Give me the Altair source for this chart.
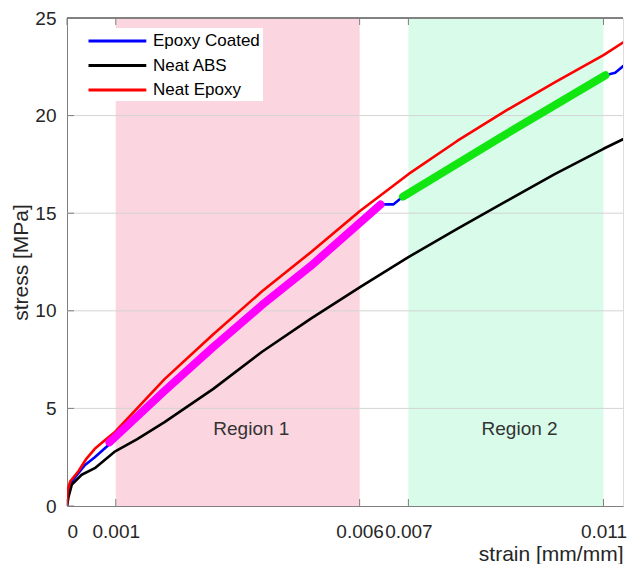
import altair as alt
import pandas as pd

# ---- data ----
strain_coated = [0, 0.00001, 0.0001, 0.00037, 0.00057, 0.00084, 0.002, 0.003, 0.004,
                 0.005, 0.006, 0.00643, 0.00669, 0.00689, 0.0089,
                 0.01104, 0.01124, 0.01153]
stress_coated = [0, 0.7, 1.27, 2.1, 2.5, 3.1, 5.9, 8.15, 10.3,
                 12.3, 14.5, 15.45, 15.45, 15.85, 18.9,
                 22.07, 22.2, 22.8]

strain_abs = [0, 0.00003, 0.0001, 0.0003, 0.00057, 0.00097, 0.00144, 0.002, 0.003,
              0.004, 0.005, 0.006, 0.007, 0.008, 0.009, 0.010, 0.011, 0.01153]
stress_abs = [0, 0.45, 1.1, 1.6, 1.94, 2.77, 3.43, 4.3, 6.0,
              7.9, 9.6, 11.2, 12.75, 14.2, 15.6, 17.0, 18.3, 18.95]

strain_epoxy = [0, 0.00001, 0.000067, 0.00023, 0.0004, 0.00057, 0.00077, 0.00097, 0.002,
                0.003, 0.004, 0.005, 0.006, 0.007, 0.008, 0.009, 0.010, 0.011, 0.01153]
stress_epoxy = [0, 0.78, 1.27, 1.77, 2.43, 2.93, 3.35, 3.76, 6.5,
                8.8, 11.0, 13.0, 15.1, 17.0, 18.7, 20.25, 21.7, 23.1, 23.95]

fit1_strain = [0.00087, 0.002, 0.003, 0.004, 0.005, 0.006, 0.00643]
fit1_stress = [3.26, 5.9, 8.15, 10.3, 12.3, 14.5, 15.45]
fit2_strain = [0.00689, 0.0089, 0.01104]
fit2_stress = [15.85, 18.9, 22.07]

region_names = ["Region 1", "Region 2"]
region_start = [0.001, 0.007]
region_end = [0.006, 0.011]
region_label_x = [0.00378, 0.00928]
region_label_y = [3.93, 3.93]
region_colors = ["#FBD5DF", "#D8FBEA"]

x_ticks = [0, 0.001, 0.006, 0.007, 0.011]
y_ticks = [0, 5, 10, 15, 20, 25]
series_names = ["Epoxy Coated", "Neat ABS", "Neat Epoxy"]
series_colors = ["#0000FF", "#000000", "#FF0000"]

# ---- tables ----
lines_df = pd.concat([
    pd.DataFrame({"strain": strain_coated, "stress": stress_coated, "series": "Epoxy Coated", "o": range(len(strain_coated))}),
    pd.DataFrame({"strain": strain_abs, "stress": stress_abs, "series": "Neat ABS", "o": range(len(strain_abs))}),
    pd.DataFrame({"strain": strain_epoxy, "stress": stress_epoxy, "series": "Neat Epoxy", "o": range(len(strain_epoxy))}),
])
fit1_df = pd.DataFrame({"strain": fit1_strain, "stress": fit1_stress})
fit2_df = pd.DataFrame({"strain": fit2_strain, "stress": fit2_stress})
regions_df = pd.DataFrame({"name": region_names, "start": region_start, "end": region_end,
                           "lx": region_label_x, "ly": region_label_y, "c": region_colors})
xt_df = pd.DataFrame({"v": x_ticks})
yt_df = pd.DataFrame({"v": y_ticks})
grid_df = pd.DataFrame({"v": y_ticks[1:-1]})

W, H = 556, 488
FONT = "Liberation Sans"
AX = "#7f7f7f"
TXT = "#262626"

xscale = alt.Scale(domain=[0, 0.0114], nice=False, zero=False)
yscale = alt.Scale(domain=[0, 25], nice=False)
xaxis = alt.Axis(values=x_ticks, labelExpr="datum.value == 0 ? '0' : format(datum.value, '.3f')",
                 title="strain [mm/mm]", titleAnchor="end", ticks=False, grid=False,
                 labelOverlap=False, labelFontSize=19, titleFontSize=21, labelPadding=16,
                 titlePadding=2, domainColor=AX, labelColor=TXT, titleColor=TXT,
                 titleFontWeight="normal", labelFont=FONT, titleFont=FONT)
yaxis = alt.Axis(values=y_ticks, title="stress [MPa]", ticks=False, grid=False,
                 labelFontSize=19, titleFontSize=21, labelPadding=11, titlePadding=3,
                 domainColor=AX, labelColor=TXT, titleColor=TXT, titleFontWeight="normal",
                 labelFont=FONT, titleFont=FONT)


def X(f):
    return alt.X(f, type="quantitative", scale=xscale, axis=xaxis)


def Y(f):
    return alt.Y(f, type="quantitative", scale=yscale, axis=yaxis)


base_r = alt.Chart(regions_df)
rects = base_r.mark_rect().encode(
    x=X("start"), x2="end", y=alt.datum(0), y2=alt.datum(25),
    color=alt.Color("c:N", scale=None))
grid = alt.Chart(grid_df).mark_rule(color="#d4d4d4", strokeWidth=1).encode(y=Y("v"))
labels = base_r.mark_text(font=FONT, fontSize=19, color="#333333").encode(
    x=X("lx"), y=Y("ly"), text="name:N")

lines = alt.Chart(lines_df).mark_line(strokeWidth=2.6, clip=True, strokeJoin="round").encode(
    x=X("strain"), y=Y("stress"), order="o:Q",
    color=alt.Color("series:N", scale=alt.Scale(domain=series_names, range=series_colors),
                    legend=alt.Legend(orient="none", legendX=17, legendY=10, title=None,
                                      symbolType="M-1,0L5.8,0", symbolStrokeWidth=3, symbolSize=289,
                                      labelFontSize=17, labelFont=FONT, labelColor="black",
                                      fillColor="white", padding=3, rowPadding=6.5, labelOffset=46)))
fit1 = alt.Chart(fit1_df).mark_line(color="#FF00FF", strokeWidth=8, strokeCap="round",
                                    strokeJoin="round").encode(x=X("strain"), y=Y("stress"))
fit2 = alt.Chart(fit2_df).mark_line(color="#11E611", strokeWidth=8, strokeCap="round").encode(
    x=X("strain"), y=Y("stress"))

xt_bottom = alt.Chart(xt_df).mark_rule(color=AX).encode(x=X("v"), y=alt.value(H), y2=alt.value(H - 7))
xt_top = alt.Chart(xt_df).mark_rule(color=AX).encode(x=X("v"), y=alt.value(0), y2=alt.value(7))
yt_left = alt.Chart(yt_df).mark_rule(color=AX).encode(y=Y("v"), x=alt.value(0), x2=alt.value(7))
top_border = alt.Chart(xt_df).mark_rule(color=AX).encode(
    x=alt.value(0), x2=alt.value(W), y=alt.value(0))

chart = alt.layer(rects, grid, labels, lines, fit1, fit2, xt_bottom, xt_top, yt_left, top_border).properties(
    width=W, height=H,
    autosize=alt.AutoSizeParams(type="none"),
    padding={"left": 59, "top": 10, "right": 10, "bottom": 58},
).configure_view(stroke=None).configure(font=FONT)

chart.save("out.html", embed_options={"renderer": "svg", "actions": False})
